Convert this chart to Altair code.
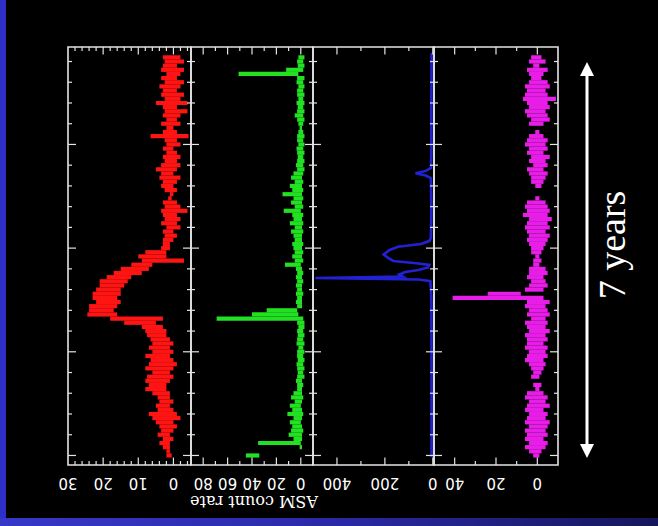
import altair as alt
import pandas as pd

# ---------------------------------------------------------------------------
# Data: ASM light curves, 20-day bins (MJD), low / high count rate per bin
# ---------------------------------------------------------------------------
BIN_T = list(range(50080, 52001, 20))

RED_LO = [-2, -3, -1, -3, -2, -1, -3, -2, -1, -3,
          -2, -4, -1, -4, -2, -1, -2, 0, -1, -4.3,
          -1, -2, 0, -1, -2, -1, -2, -1, 0, -2,
          -1, 0, -1, 0, 0.5, -1, -2, -4, -1, -2,
          -1, -2, 0, -1, 0, 1, 1, 2, 2, -3,
          6, 7, 9, 12, 13, 14, 15, 15, 16, 15,
          16, 17, 16, 3, 5, 3, 2, 2, 1, 0,
          1, 0, 1, 0, -1, 0, 1, 0, 1, 2,
          2, 1, 1, 0, 1, 0, -1, -2, 0, -1,
          0, 1, 0, 1, 1, 1, 0.5]
RED_HI = [3, 2.5, 3, 3.5, 2, 3.5, 2.5, 4, 3, 3.5,
          2.5, 5, 3, 2.5, 3, 2, 3.5, 2, 3, 6.5,
          2.5, 2, 3, 2, 3, 2.5, 3.5, 5, 3.5, 4,
          3, 3.5, 2.5, 1, 1.5, 3, 2.5, 3.5, 3, 2.5,
          3.5, 2, 3, 2.5, 3, 3, 3.5, 8, 10, 9,
          12, 15, 17, 19, 21, 21, 22, 23, 23, 22,
          24, 24, 24.5, 18, 14, 9, 8, 7.5, 6.5, 6,
          7, 6, 8, 6.5, 7, 8, 6, 7.5, 8, 7,
          8, 6, 4.5, 4, 5, 4.5, 7, 6, 5, 4,
          3.5, 4.5, 3, 4, 3, 2, 2]

GREEN_LO = [-3, -2, -3, -2, 2, -3, -2, -3, -2, -3,
            -2, -3, -2, -3, -2, -3, -2, -1, -2, -3,
            -2, -3, -2, -3, -2, -3, -2, -3, -2, -1,
            -2, -1, -2, -1, -2, -1, -2, 0, -2, -1,
            -2, -1, -2, -1, -1, -2, -1, -2, -1, -2,
            0, -1, -2, -1, -2, -1, -1, -2, -1, -1,
            -1, 3, 2, -2, -3, -3, -2, -3, -2, -3,
            -2, -3, -2, -3, -2, -3, -2, -3, -1, -2,
            -1, -1, -2, -1, 0, -1, -2, -1, 0, -1,
            -2, -1, -1, 0, -1, None, 34]
GREEN_HI = [2, 3, 2.5, 12, 51, 3, 3.5, 2, 3, 3,
            2, 3.5, 2.5, 3, 5, 3, 2, 1, 2, 3,
            3, 2, 3.5, 3, 2.5, 3, 4, 3, 6, 8,
            5, 9, 7, 15, 6, 8, 5, 14, 7, 6,
            9, 5, 8, 6, 5, 7, 6, 5, 7, 5,
            13, 4, 3, 4, 3, 4, 3, 4, 3, 4,
            3, 28, 40, 69, 3, 2, 3, 2.5, 3, 3.5,
            2, 3, 3, 2.5, 3.5, 3, 2.5, 3, 4, 3,
            3, 6, 8, 5, 9, 7, 11, 6, 9, 7,
            8, 10, 6, 35, 1, None, 45]

MAGENTA_LO = [-2, -4, -1, -5, -3, -2, -5, -6, -4, -5,
              -9, -5, -6, -4, -5, -6, -3, None, -1, -3,
              -5, -4, -5, -3, -6, -4, -5, -3, -5, -4,
              -3, -2, None, None, -1, -4, -5, -6, -5, -7,
              -5, -6, -4, -6, -5, -4, -3, -2, -1, -2,
              -1, -4, -5, -3, -4, -5, -3, 8, -3, -6,
              -4, -5, -6, -4, -5, -4, -6, -4, -5, -3,
              -5, -4, -5, -3, -4, -3, -2, -1, None, -2,
              -1, -3, -5, -4, -6, -3, -5, -4, -6, -5,
              -4, -5, -3, -5, -4, -2, -1]
MAGENTA_HI = [3, 4, 2, 5, 4, 3, 4, 6, 5, 6,
              7, 5, 4, 6, 5, 3, 4, None, 1, 4,
              5, 6, 4, 5, 3, 4, 2, 5, 4, 3,
              3, 1, None, None, 1, 5, 6, 5, 7, 4,
              5, 6, 5, 4, 5, 4, 3, 3, 1, 2,
              2, 4, 4, 5, 3, 4, 6, 24, 41, 5,
              6, 4, 5, 3, 6, 5, 4, 6, 5, 5,
              6, 4, 5, 6, 4, 3, 2, 3, None, 2,
              1, 5, 6, 4, 5, 6, 4, 5, 6, 4,
              6, 5, 6, 4, 6, 4, 2]

# smooth bright transient (key points of the daily curve)
BLUE_T = [50059, 50286, 50527, 50614, 50628, 50639, 50650, 50662, 50816, 50951,
          50966, 50980, 50993, 51009, 51031, 51048, 51062, 51073, 51081, 51093,
          51106, 51115, 51127, 51137, 51144, 51151, 51159, 51250, 51732, 52007]
BLUE_V = [5, 6, 6, 8, 30, 72, 30, 8, 6, 8,
          15, 50, 145, 180, 205, 185, 165, 69, 15, 20,
          60, 115, 140, 125, 490, 60, 10, 6, 5, 5]

TIME_DOMAIN = [50030, 52046]
TIME_MINOR = [t for t in range(50100, 52001, 100) if t % 500]
TIME_MAJOR = [50500, 51000, 51500, 52000]

# ---------------------------------------------------------------------------
# Layout / style
# ---------------------------------------------------------------------------
W, H = 658, 526
TOP, BOTTOM = 47, 465
FRAME = "#e4e4e4"
LABEL_FONT = "DejaVu Sans"

PANELS = [
    dict(domain=[-5, 30], left=68, right=191, color="#ff1414",
         major=[0, 10, 20], minor=[-4, -2, 2, 4, 6, 8, 12, 14, 16, 18, 22, 24, 26, 28],
         labels=[0, 10, 20, 30], lo=RED_LO, hi=RED_HI),
    dict(domain=[-10, 90], left=191, right=313, color="#22e022",
         major=[0, 20, 40, 60, 80], minor=[10, 30, 50, 70],
         labels=[0, 20, 40, 60, 80], lo=GREEN_LO, hi=GREEN_HI),
    dict(domain=[-5, 500], left=313, right=434, color="#2222d2",
         major=[0, 200, 400], minor=[100, 300],
         labels=[0, 200, 400], line_t=BLUE_T, line_v=BLUE_V),
    dict(domain=[-10, 50], left=434, right=558, color="#e81ee8",
         major=[0, 20, 40], minor=[10, 30],
         labels=[0, 20, 40], lo=MAGENTA_LO, hi=MAGENTA_HI),
]

ys = alt.Scale(domain=TIME_DOMAIN, range=[TOP, BOTTOM], nice=False, zero=False)
one = pd.DataFrame({"a": [0]})


def count_ticks(values, xs, y0, y1):
    return alt.Chart(pd.DataFrame({"v": values})).mark_rule(
        color=FRAME, strokeWidth=1.2
    ).encode(
        x=alt.X("v:Q", scale=xs, axis=None),
        y=alt.value(y0), y2=alt.value(y1),
    )


def time_ticks(values, x0, x1):
    return alt.Chart(pd.DataFrame({"t": values})).mark_rule(
        color=FRAME, strokeWidth=1.2
    ).encode(
        y=alt.Y("t:Q", scale=ys, axis=None),
        x=alt.value(x0), x2=alt.value(x1),
    )


def panel(p):
    xs = alt.Scale(domain=p["domain"], range=[p["right"], p["left"]],
                   nice=False, zero=False)
    layers = []
    if "lo" in p:
        df = pd.DataFrame({"t": BIN_T, "lo": p["lo"], "hi": p["hi"]})
        layers.append(
            alt.Chart(df).transform_filter("isValid(datum.lo)").mark_rule(
                color=p["color"], strokeWidth=4.2
            ).encode(
                x=alt.X("lo:Q", scale=xs, axis=None), x2="hi:Q",
                y=alt.Y("t:Q", scale=ys, axis=None),
            )
        )
    else:
        df = pd.DataFrame({"t": p["line_t"], "v": p["line_v"]})
        layers.append(
            alt.Chart(df).mark_line(color=p["color"], strokeWidth=2.6).encode(
                x=alt.X("v:Q", scale=xs, axis=None),
                y=alt.Y("t:Q", scale=ys, axis=None),
                order=alt.Order("t:Q"),
            )
        )
    frame_df = pd.DataFrame({"a": [p["domain"][0]], "b": [p["domain"][1]],
                             "t0": [TIME_DOMAIN[0]], "t1": [TIME_DOMAIN[1]]})
    layers.append(
        alt.Chart(frame_df).mark_rect(filled=False, stroke=FRAME, strokeWidth=1.6).encode(
            x=alt.X("a:Q", scale=xs, axis=None), x2="b:Q",
            y=alt.Y("t0:Q", scale=ys, axis=None), y2="t1:Q",
        )
    )
    layers += [
        count_ticks(p["major"], xs, TOP, TOP + 7.5),
        count_ticks(p["minor"], xs, TOP, TOP + 4),
        count_ticks(p["major"], xs, BOTTOM, BOTTOM - 7.5),
        count_ticks(p["minor"], xs, BOTTOM, BOTTOM - 4),
        time_ticks(TIME_MAJOR, p["left"], p["left"] + 8),
        time_ticks(TIME_MINOR, p["left"], p["left"] + 4),
        time_ticks(TIME_MAJOR, p["right"], p["right"] - 8),
        time_ticks(TIME_MINOR, p["right"], p["right"] - 4),
    ]
    lab_df = pd.DataFrame({"v": p["labels"], "s": [str(v) for v in p["labels"]]})
    layers.append(
        alt.Chart(lab_df).mark_text(
            angle=180, font=LABEL_FONT, fontSize=15, color="#ffffff",
            align="center", baseline="middle",
        ).encode(
            x=alt.X("v:Q", scale=xs, axis=None), y=alt.value(483), text="s:N",
        )
    )
    return alt.layer(*layers)


# background strips
blue_fade = alt.Gradient(
    gradient="linear",
    stops=[alt.GradientStop(color="#3838c8", offset=0),
           alt.GradientStop(color="#2a2aa8", offset=0.5),
           alt.GradientStop(color="#16165c", offset=1)],
    x1=0, x2=1, y1=0, y2=0,
)
left_strip = alt.Chart(one).mark_rect(fill="#2e2ec8").encode(
    x=alt.value(0), x2=alt.value(6), y=alt.value(0), y2=alt.value(H))
bottom_strip = alt.Chart(one).mark_rect(fill=blue_fade).encode(
    x=alt.value(0), x2=alt.value(W), y=alt.value(518), y2=alt.value(H))

axis_title = alt.Chart(one).mark_text(
    text="ASM count rate", angle=180, font="DejaVu Serif", fontSize=16,
    color="#ffffff", align="center", baseline="middle",
).encode(x=alt.value(254), y=alt.value(501))

# "7 years" double arrow
shaft = alt.Chart(one).mark_rule(color="#ffffff", strokeWidth=3).encode(
    x=alt.value(587), y=alt.value(72), y2=alt.value(448))
head_up = alt.Chart(one).mark_point(
    shape="M0,-1L1,1L-1,1Z", size=196, filled=True, color="#ffffff", opacity=1,
).encode(x=alt.value(587), y=alt.value(69))
head_down = alt.Chart(one).mark_point(
    shape="M0,1L1,-1L-1,-1Z", size=196, filled=True, color="#ffffff", opacity=1,
).encode(x=alt.value(587), y=alt.value(451))
span_text = alt.Chart(one).mark_text(
    text="7 years", angle=270, font="Liberation Serif", fontSize=38,
    color="#ffffff", align="center", baseline="middle",
).encode(x=alt.value(614), y=alt.value(245))

chart = alt.layer(
    left_strip, bottom_strip,
    *[panel(p) for p in PANELS],
    axis_title, shaft, head_up, head_down, span_text,
).resolve_scale(
    x="independent"
).properties(
    width=W, height=H, padding=0, autosize=alt.AutoSizeParams(type="none"),
).configure(
    background="#000000"
).configure_view(stroke=None)

chart.save("out.html", embed_options={"renderer": "svg", "actions": False})
